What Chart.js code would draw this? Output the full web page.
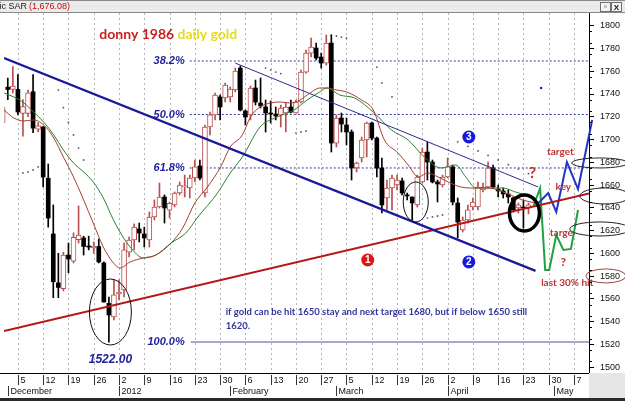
<!DOCTYPE html>
<html>
<head>
<meta charset="utf-8">
<script src="https://cdn.jsdelivr.net/npm/chart.js@4.4.1/dist/chart.umd.min.js"></script>
<style>
  html, body { margin: 0; padding: 0; background: #fff; }
  canvas { display: block; }
</style>
</head>
<body>
<canvas id="grafico" width="625" height="401"></canvas>
<script>
// Gold daily candles, one slot per trading day, slot 0 = Mon 5 Dec 2011
const firstDay = -3;
const openP = [1715,1746,1744,1744,1723,1723,1742,1709,1711,1666,1617,1574,1569,1598.5,1593,1612,1613.5,1606,1604.7,1606,1591.5,1556,1544,1564.3,1567.8,1601,1611.7,1621.4,1617,1611.7,1631.9,1640.7,1649.5,1638,1642.5,1653,1658.3,1657.4,1666.2,1676.7,1653,1711,1721.6,1737.4,1736.5,1737.4,1743.5,1762.8,1725.1,1721.6,1745.3,1732.1,1728.6,1723.3,1722.4,1721.6,1723.3,1728.6,1723.3,1733,1759.3,1776,1780.4,1772.5,1767.2,1784.8,1696.9,1718.9,1712.8,1706.6,1675,1683.8,1699.6,1714.5,1701.3,1675,1648.6,1657.4,1660,1663.6,1651.3,1649.5,1642.5,1662.7,1689,1680.2,1662.7,1660,1667.1,1675.9,1644.2,1620.5,1629.3,1640.7,1640.7,1655.6,1658.3,1675,1656.5,1654.8,1652.1,1648.6,1639.8,1640.7,1639.8];
const highP = [1737,1754,1764,1757,1735,1743.5,1757,1715,1711.5,1678.5,1642.5,1600,1601,1609,1618,1641.6,1615,1615,1610,1612.6,1592.4,1561.6,1576.6,1576.6,1609,1614.3,1625.8,1626.6,1623,1636.3,1646.9,1661.8,1651.3,1645,1653.9,1662.7,1668.8,1668.8,1682,1682,1712.8,1724.2,1740.9,1739.1,1749.7,1746.2,1762.8,1764.6,1725.9,1747,1752.3,1754.1,1734.7,1733.9,1728.6,1730.3,1732.1,1734.7,1734.7,1761.1,1778.7,1789.2,1784.8,1776,1791.8,1791.8,1721.6,1723.3,1718.9,1708.4,1680.2,1702.2,1715.4,1715.4,1702.2,1683.8,1664.4,1668.8,1668.8,1666.2,1653,1649.5,1668.8,1692.5,1697.8,1682,1664.4,1668.8,1683.8,1677.6,1648.6,1631.9,1642.5,1648.6,1662.7,1661.8,1680.2,1677.6,1660,1657.4,1655.6,1649.5,1644.2,1646.9,1644.2];
const lowP = [1702,1735,1741,1721.6,1703,1720,1706,1707,1658.3,1623,1561,1561,1567,1583,1591.5,1609,1598.5,1603,1600,1591.5,1557,1522,1541.4,1559,1561.6,1596.8,1603,1610,1605.5,1605.5,1629.3,1639.8,1626.6,1631,1640.7,1651.3,1649.5,1648.6,1662.7,1664.4,1649.5,1704,1717.2,1717.2,1733,1733,1741.8,1725.1,1712.8,1717.2,1730.3,1727.7,1706.6,1714.5,1717.2,1711,1706.6,1723.3,1723.3,1732.1,1758.4,1772.5,1769.9,1762.8,1765.5,1689,1693.4,1706.6,1695.2,1664.4,1671.5,1680.2,1684.6,1699.6,1667.1,1635.4,1638.1,1638.1,1655.6,1651.3,1646.9,1629.3,1640.7,1661.8,1664.4,1661.8,1645.1,1658.3,1666.2,1642.5,1613.5,1618.7,1626.6,1638.1,1638.1,1653.9,1657.4,1657.4,1649.5,1648.6,1644.2,1636.3,1635.4,1622.2,1634.6];
const closeP = [1728,1744,1747,1724.2,1729,1741,1710,1712,1667,1631,1575,1570,1598.5,1595,1614,1616,1606,1605.5,1606.4,1592.4,1557.2,1545.8,1563.4,1566,1603,1611.7,1623,1617.8,1613.5,1631.9,1640.7,1649.5,1639.8,1644,1653,1660,1659.2,1666.2,1675.9,1666.2,1711,1721.6,1739.1,1728.6,1747.9,1744.4,1760.2,1725.9,1719.8,1745.3,1733,1729.5,1723.3,1722.4,1720.7,1727.7,1728.6,1724.2,1733,1759.3,1776,1781.3,1771.6,1767.2,1784.8,1696.9,1718.9,1713.6,1706.6,1675,1679.4,1699.6,1714.5,1701.3,1675,1642.5,1657.4,1666.2,1664.4,1653,1650.4,1644.2,1667.1,1689,1680.2,1662.7,1660.9,1667.1,1675.9,1645.1,1627.5,1629.3,1638.1,1645.1,1658.3,1658.3,1675,1658.3,1654.8,1652.1,1649.5,1638.1,1642.5,1639.8,1642.5];

// moving averages
const maRedIdx = [-2.75,-0.8,1.2,3.1,5.1,7.1,9,11,13,14.9,16.9,18.9,20.2,22.2,24.8,27.3,30.3,32.6,35,37.5,40.1,42,44.4,46,47.9,49.9,51.9,53.8,55.8,57.8,59.7,61.1,63.1,65,68,70.3,72.5,75.2,77.2,79.2,81.1,83.1,85.1,87.6,89.6,93.1,96.5,99.8,102.4];
const maRedVal = [1725.9,1718.9,1716.3,1717.2,1712.8,1701.3,1684.6,1667.1,1646.9,1626.6,1605.5,1591.5,1587.1,1592.4,1595.9,1598.5,1609,1622.2,1644.2,1658.3,1675.9,1693.4,1704,1719.8,1728.6,1732.1,1733,1732.1,1734.7,1740.9,1745.3,1745.3,1743.5,1741.8,1734.7,1725.9,1699.6,1688.2,1677.6,1667.1,1670.6,1667.1,1662.7,1658.3,1657.4,1657.4,1653,1646.9,1644.2];
const maGreenIdx = [-2.75,-0.8,1.2,3.1,5.1,7.1,9,11,13,14.9,16.9,18.9,20.8,22.2,24.8,27.3,30.3,33.2,35.6,39.5,42,44.4,47.9,51.3,54.6,57.2,59.7,61.1,63.7,66.6,70.5,73.9,77.2,80.4,83.7,86.6,88.6,90.6,95.9,98.4,101,102.4];
const maGreenVal = [1740.9,1737.4,1732.1,1724.2,1715.4,1704,1690.8,1679.4,1671.5,1662.7,1648.6,1629.3,1614.3,1605.5,1595.9,1598.5,1609,1617.8,1631.9,1653,1670.6,1684.6,1711,1719.8,1725.9,1734.7,1741.8,1745.3,1739.1,1736.5,1723.3,1708.4,1699.6,1684.6,1675,1677.6,1667.1,1657.4,1657.4,1653.9,1650.4,1648.6];

// parabolic SAR dots
const sarIdx = [1,2,3,4,8,9,10,11,12,13,49,50,51,52,55,56,57,62,63,64,65,71,72,74,81,82,83,84,87,89,91,93,95,97,99,101];
const sarVal = [1670.6,1671.5,1673.2,1675.9,1743.5,1728,1715,1704,1692.5,1682,1762.8,1761,1759.3,1758,1705.7,1706.6,1707.5,1791.8,1791,1790,1789,1763.7,1749.7,1737.4,1631,1632,1632.8,1633.7,1698,1694,1690,1686,1682,1678,1674,1670];

// hand drawn lines (day slot, price)
const blueTrend = [[-2.75, 1771.6], [102.4, 1584.5]];
const redTrend = [[-2.75, 1531.7], [112.97, 1652.5]];
const channelTop = [[43, 1767.2], [102.9, 1658.3]];
const fibLevels = [1769, 1722, 1675];
const fibLabels = ['38.2%', '50.0%', '61.8%'];
const fibLow = 1522;
const pathUpIdx = [102.4, 104.9, 106.5, 108.6, 110.8, 113.6];
const pathUpVal = [1641.6, 1653, 1636.3, 1680.2, 1656.5, 1717.2];
const pathDownIdx = [102, 103.3, 104.3, 105.1, 106.5, 107.9, 109.4, 110.8];
const pathDownVal = [1641.6, 1657.4, 1585.3, 1585.3, 1616.1, 1602.9, 1603.8, 1638.1];

// axis labels
const yTicks = [1500,1510,1520,1530,1540,1550,1560,1570,1580,1590,1600,1610,1620,1630,1640,1650,1660,1670,1680,1690,1700,1710,1720,1730,1740,1750,1760,1770,1780,1790,1800];
const weekLabels = ['5','12','19','26','2','9','16','23','30','6','13','20','27','5','12','19','26','2','9','16','23','30','7'];
const monthLabels = ['December','2012','February','March','April','May'];
const monthStart = [-2, 20, 42, 63, 85, 106];

const upBody = [], downBody = [], upWick = [], downWick = [];
openP.forEach((o, k) => {
    const i = firstDay + k;
    const c = closeP[k];
    const wick = {x: i, y: [lowP[k], highP[k]]};
    if (c >= o) { upBody.push({x: i, y: [o, c]}); upWick.push(wick); }
    else { downBody.push({x: i, y: [c, o]}); downWick.push(wick); }
});

const pairs = (xs, ys) => xs.map((x, k) => ({x: x, y: ys[k]}));
const seg = (p) => p.map(q => ({x: q[0], y: q[1]}));
const flat = (v) => [{x: 34, y: v}, {x: 112.97, y: v}];

function lineSet(data, color, width, order, extra) {
    return Object.assign({type: 'line', data: data, borderColor: color, borderWidth: width,
        pointRadius: 0, fill: false, tension: 0, order: order}, extra || {});
}

const FONT_AX = '"Liberation Sans Narrow", "Liberation Sans", Arial, sans-serif';
const SANS = 'Lato, "Open Sans", "DejaVu Sans", sans-serif';
const ARIAL = '"Liberation Sans", Arial, sans-serif';

const frame = {
    id: 'frame',
    beforeDraw(c) {
        const ctx = c.ctx;
        ctx.save();
        ctx.fillStyle = '#fff';
        ctx.fillRect(0, 0, c.width, c.height);
        ctx.restore();
    },
    beforeDatasetsDraw(c) {
        const ctx = c.ctx, a = c.chartArea, xs = c.scales.x;
        ctx.save();
        ctx.strokeStyle = '#b4b4b4';
        ctx.lineWidth = 1;
        ctx.setLineDash([2, 3]);
        weekLabels.forEach((t, k) => {
            const x = Math.round(xs.getPixelForValue(5 * k)) + 0.5;
            ctx.beginPath(); ctx.moveTo(x, a.top); ctx.lineTo(x, a.bottom); ctx.stroke();
        });
        ctx.restore();
    },
    afterDatasetsDraw(c) {
        const ctx = c.ctx, xs = c.scales.x, ys = c.scales.y;
        const X = i => xs.getPixelForValue(i), Y = p => ys.getPixelForValue(p);
        ctx.save();
        ctx.textBaseline = 'middle';

        // fib labels
        ctx.font = 'italic bold 11px ' + ARIAL;
        ctx.fillStyle = '#22229c';
        ctx.textAlign = 'right';
        fibLabels.forEach((t, k) => ctx.fillText(t, X(33), Y(fibLevels[k])));
        ctx.fillText('100.0%', X(33), Y(fibLow));
        ctx.textAlign = 'center';
        ctx.font = 'italic bold 12px ' + ARIAL;
        ctx.fillText('1522.00', X(18.3), Y(1506.5));

        // title
        ctx.textAlign = 'left';
        ctx.font = 'bold 14px ' + SANS;
        ctx.fillStyle = '#c8201e';
        const t1 = 'donny 1986 ';
        ctx.fillText(t1, X(16.1), Y(1792.7));
        ctx.fillStyle = '#e6dc1e';
        ctx.fillText('daily gold', X(16.1) + ctx.measureText(t1).width, Y(1792.7));

        // note
        ctx.font = 'bold 9.5px ' + SANS;
        ctx.fillStyle = '#35359c';
        ctx.fillText('if gold can be hit 1650 stay and next target 1680, but if below 1650 still', X(41.1), Y(1548.4));
        ctx.fillText('1620.', X(41.1), Y(1536.2));

        // ellipses
        const ell = (i, p, rx, ry, col, w) => {
            ctx.beginPath();
            ctx.ellipse(X(i), Y(p), rx, ry, 0, 0, Math.PI * 2);
            ctx.strokeStyle = col; ctx.lineWidth = w; ctx.stroke();
        };
        ell(18.3, 1548.4, 21, 33, '#111', 1);
        ell(78.7, 1645.1, 12.5, 20, '#111', 1);
        ell(100.2, 1635.4, 15, 18, '#000', 3.5);
        ell(115.1, 1679.4, 28, 5, '#222', 1);
        ell(116.1, 1650.4, 25, 8, '#222', 1);
        ell(115.1, 1621.4, 30, 7, '#222', 1);
        ell(116.3, 1580.1, 20, 7, '#a04040', 1);

        // circled numbers
        const num = (i, p, t, col) => {
            ctx.beginPath();
            ctx.arc(X(i), Y(p), 6.5, 0, Math.PI * 2);
            ctx.fillStyle = col; ctx.fill();
            ctx.fillStyle = '#fff'; ctx.font = 'bold 10px ' + ARIAL;
            ctx.textAlign = 'center';
            ctx.fillText(t, X(i), Y(p) + 0.5);
        };
        num(69.2, 1594.1, '1', '#e01414');
        num(89.2, 1592.4, '2', '#1818e0');
        num(89.2, 1702.2, '3', '#1818e0');
        ctx.beginPath(); ctx.arc(X(103.5), Y(1745.3), 1.2, 0, Math.PI * 2);
        ctx.fillStyle = '#1a1a99'; ctx.fill();

        // red notes
        ctx.fillStyle = '#c03232';
        ctx.textAlign = 'center';
        ctx.font = 'bold 16px ' + SANS;
        ctx.fillText('?', X(101.8), Y(1670.6));
        ctx.font = 'bold 12px ' + SANS;
        ctx.fillText('?', X(107.9), Y(1592.4));
        ctx.font = 'bold 10px ' + SANS;
        ctx.fillText('target', X(107.3), Y(1689));
        ctx.fillText('key', X(107.9), Y(1658.3));
        ctx.fillText('targe', X(107.5), Y(1617.8));
        ctx.textAlign = 'left';
        ctx.fillText('last 30% hit', X(103.5), Y(1573.9));
        ctx.restore();
    },
    afterDraw(c) {
        const ctx = c.ctx, a = c.chartArea, xs = c.scales.x, ys = c.scales.y;
        ctx.save();
        // minor ticks on price axis
        ctx.strokeStyle = '#000';
        ctx.lineWidth = 1;
        yTicks.forEach(v => {
            const y = Math.round(ys.getPixelForValue(v - 5)) + 0.5;
            ctx.beginPath(); ctx.moveTo(a.right, y); ctx.lineTo(a.right + 3, y); ctx.stroke();
        });
        // date axis
        const b = a.bottom;
        ctx.fillStyle = '#fff';
        ctx.fillRect(0, b, a.right, 25);
        ctx.fillStyle = '#e6e6e6';
        ctx.fillRect(a.right, b, c.width - a.right, 25);
        ctx.beginPath(); ctx.moveTo(0, b + 0.5); ctx.lineTo(a.right, b + 0.5); ctx.stroke();
        ctx.font = '9px ' + FONT_AX;
        ctx.fillStyle = '#111';
        ctx.textAlign = 'left';
        ctx.textBaseline = 'middle';
        ctx.strokeStyle = '#333';
        weekLabels.forEach((t, k) => {
            const x = Math.round(xs.getPixelForValue(5 * k)) + 0.5;
            ctx.beginPath(); ctx.moveTo(x, b + 2); ctx.lineTo(x, b + 12); ctx.stroke();
            ctx.fillText(t, x + 2, b + 7.5);
        });
        monthLabels.forEach((t, k) => {
            const x = Math.round(xs.getPixelForValue(monthStart[k])) + 0.5;
            ctx.beginPath(); ctx.moveTo(x, b + 13); ctx.lineTo(x, b + 23); ctx.stroke();
            ctx.fillText(t, x + 2, b + 18.5);
        });
        ctx.fillStyle = '#2a2a2a';
        ctx.fillRect(0, c.height - 3, c.width, 3);

        // header bar
        ctx.fillStyle = '#ebebeb';
        ctx.fillRect(0, 0, c.width, 12);
        ctx.fillStyle = '#8a8a8a';
        ctx.fillRect(0, 0, c.width, 1);
        ctx.fillRect(0, 12, c.width, 1);
        ctx.font = '9px ' + ARIAL;
        ctx.textAlign = 'right';
        ctx.fillStyle = '#222';
        ctx.fillText('Parabolic SAR', 27, 7);
        ctx.textAlign = 'left';
        ctx.fillStyle = '#c01010';
        ctx.fillText('(1,676.08)', 29, 7);
        ctx.strokeStyle = '#707070';
        ctx.fillStyle = '#f4f4f4';
        [600, 611].forEach(x => {
            ctx.fillRect(x, 2, 10, 9);
            ctx.strokeRect(x + 0.5, 2.5, 10, 9);
        });
        ctx.fillStyle = '#111';
        ctx.font = 'bold 8px ' + ARIAL;
        ctx.textAlign = 'center';
        ctx.fillText('\u25AB', 605.5, 7);
        ctx.fillText('X', 616.5, 7.5);
        ctx.restore();
    }
};

new Chart(document.getElementById('grafico'), {
    type: 'bar',
    data: {
        datasets: [
            lineSet(seg(blueTrend), '#1a1a99', 2.3, 0),
            lineSet(seg(redTrend), '#b41818', 2, 0),
            lineSet(seg(channelTop), '#2c2c8c', 1, 0),
            lineSet(pairs(pathUpIdx, pathUpVal), '#2335c8', 2, 0, {clip: false}),
            lineSet(pairs(pathDownIdx, pathDownVal), '#22a040', 2, 0, {clip: false}),
            lineSet(pairs(maRedIdx, maRedVal), '#a5402e', 1, 1, {cubicInterpolationMode: 'monotone'}),
            lineSet(pairs(maGreenIdx, maGreenVal), '#2f7f2f', 1, 1, {cubicInterpolationMode: 'monotone'}),
            {data: upBody, backgroundColor: '#fff', borderColor: '#b85050', borderWidth: 1, borderSkipped: false,
                grouped: false, barThickness: 5, maxBarThickness: 5, minBarLength: 1, order: 2},
            {data: downBody, backgroundColor: '#000', borderWidth: 0, grouped: false,
                barThickness: 4, maxBarThickness: 4, minBarLength: 1, order: 2},
            {data: upWick, backgroundColor: '#b85050', borderWidth: 0, grouped: false,
                barThickness: 1, maxBarThickness: 1, order: 3},
            {data: downWick, backgroundColor: '#000', borderWidth: 0, grouped: false,
                barThickness: 1, maxBarThickness: 1, order: 3},
            lineSet(pairs(sarIdx, sarVal), '#555', 0, 4, {showLine: false, pointRadius: 0.9,
                pointBackgroundColor: '#555', pointBorderWidth: 0}),
            ...fibLevels.map(v => lineSet(flat(v), '#3a3a9a', 1, 5, {borderDash: [2, 2]})),
            lineSet([{x: 34.2, y: fibLow}, {x: 112.97, y: fibLow}], '#8a8ac6', 1.5, 5)
        ]
    },
    options: {
        responsive: false,
        animation: false,
        events: [],
        layout: {padding: {top: 13, bottom: 28, left: 0, right: 0}},
        plugins: {legend: {display: false}, tooltip: {enabled: false}},
        scales: {
            x: {type: 'linear', min: -2.75, max: 112.97, display: false, offset: false},
            y: {
                position: 'right',
                min: 1494.8,
                max: 1811.2,
                afterBuildTicks: s => { s.ticks = yTicks.map(v => ({value: v})); },
                afterFit: s => { s.width = 36; },
                grid: {drawOnChartArea: false, tickLength: 5, color: '#000'},
                border: {color: '#000'},
                ticks: {padding: 6, color: '#111', font: {family: FONT_AX, size: 9},
                    callback: v => String(v)}
            }
        }
    },
    plugins: [frame]
});
</script>
</body>
</html>
